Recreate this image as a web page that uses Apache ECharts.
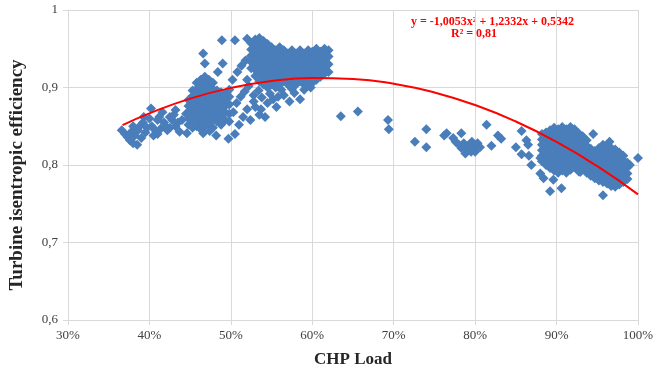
<!DOCTYPE html>
<html><head><meta charset="utf-8">
<script src="https://cdn.jsdelivr.net/npm/echarts@6/dist/echarts.min.js"></script>
<style>html,body{margin:0;padding:0;background:#fff}#c{width:659px;height:376px}</style>
</head><body><div id="c"></div>
<script>
// Axis ticks
const xTicks = [0.3,0.4,0.5,0.6,0.7,0.8,0.9,1.0];
const yTicks = [0.6,0.7,0.8,0.9,1.0];

// Scatter data
const clusterLow = [
 [0.366,0.845],[0.370,0.840],[0.373,0.836],[0.376,0.832],[0.380,0.828],[0.378,0.843],[0.382,0.838],
 [0.385,0.826],[0.386,0.845],[0.388,0.850],[0.390,0.835],[0.392,0.855],[0.395,0.842],[0.397,0.848],
 [0.400,0.860],[0.402,0.873],[0.403,0.850],[0.405,0.838],[0.407,0.845],[0.410,0.858],[0.412,0.862],
 [0.414,0.847],[0.416,0.868],[0.418,0.855],[0.420,0.850],[0.422,0.845],[0.425,0.862],[0.428,0.858],
 [0.430,0.865],[0.432,0.850],[0.435,0.855],[0.437,0.843],[0.440,0.858],[0.445,0.866],[0.432,0.871],
 [0.380,0.850],[0.393,0.862],[0.410,0.840],[0.425,0.848]
];
const colsMid1 = [
 [0.448,0.852,0.860,0.868,0.876,0.884],
 [0.453,0.848,0.857,0.864,0.873,0.880,0.889,0.896],
 [0.458,0.850,0.858,0.867,0.874,0.882,0.891,0.898,0.906],
 [0.463,0.846,0.855,0.862,0.871,0.878,0.886,0.895,0.902,0.910],
 [0.468,0.850,0.858,0.866,0.875,0.882,0.890,0.899,0.906,0.914],
 [0.473,0.854,0.862,0.871,0.878,0.887,0.894,0.902,0.910],
 [0.478,0.848,0.858,0.866,0.874,0.883,0.890,0.898,0.906],
 [0.483,0.856,0.865,0.872,0.880,0.889,0.896],
 [0.488,0.852,0.862,0.870,0.879,0.886,0.894],
 [0.493,0.858,0.868,0.876,0.885,0.892],
 [0.498,0.856,0.866,0.878,0.888,0.897]
];
const scatterMid1 = [
 [0.466,0.944],[0.489,0.961],[0.505,0.961],[0.520,0.963],[0.490,0.931],[0.468,0.931],[0.484,0.920],
 [0.497,0.834],[0.466,0.841],[0.446,0.841],[0.505,0.840],[0.510,0.852],[0.515,0.862],[0.520,0.872],
 [0.503,0.868],[0.507,0.880],[0.512,0.888],[0.517,0.895],[0.522,0.902],[0.502,0.910],[0.508,0.920],
 [0.513,0.928],[0.518,0.935],[0.525,0.940],[0.520,0.910],[0.528,0.890],[0.530,0.875],[0.535,0.865],
 [0.482,0.838],[0.474,0.844],[0.524,0.858],[0.542,0.862],[0.556,0.875]
];
const colsMid2 = [
 [0.525,0.925,0.933,0.941,0.949,0.957],
 [0.530,0.915,0.923,0.931,0.939,0.947,0.955,0.962],
 [0.535,0.908,0.917,0.924,0.933,0.940,0.948,0.956,0.964],
 [0.540,0.904,0.912,0.921,0.928,0.936,0.945,0.952,0.960],
 [0.545,0.900,0.909,0.916,0.924,0.933,0.940,0.948,0.956],
 [0.550,0.904,0.912,0.920,0.929,0.936,0.944,0.952],
 [0.555,0.900,0.908,0.917,0.924,0.932,0.941,0.948],
 [0.560,0.904,0.913,0.920,0.928,0.937,0.944,0.952],
 [0.565,0.908,0.916,0.925,0.932,0.940,0.948],
 [0.570,0.904,0.912,0.920,0.929,0.936,0.944],
 [0.575,0.908,0.917,0.924,0.932,0.941,0.948],
 [0.580,0.904,0.912,0.921,0.928,0.936,0.944],
 [0.585,0.908,0.916,0.924,0.933,0.940,0.948],
 [0.590,0.904,0.913,0.920,0.928,0.937,0.944],
 [0.595,0.908,0.916,0.925,0.932,0.940,0.948],
 [0.600,0.906,0.914,0.922,0.931,0.938,0.946],
 [0.605,0.910,0.918,0.926,0.935,0.942,0.950],
 [0.610,0.914,0.922,0.931,0.938,0.946],
 [0.615,0.918,0.926,0.934,0.942,0.950],
 [0.620,0.920,0.930,0.940,0.948]
];
const scatterMid2 = [
 [0.538,0.887],[0.545,0.880],[0.552,0.885],[0.558,0.888],[0.565,0.890],[0.572,0.882],[0.578,0.893],
 [0.585,0.885],[0.534,0.896],[0.548,0.892],[0.562,0.897],[0.575,0.898],[0.590,0.897],[0.598,0.900],
 [0.537,0.872],[0.528,0.882]
];
const scatterSparse = [
 [0.635,0.863],[0.656,0.869],[0.693,0.858],[0.694,0.846],[0.726,0.830],[0.740,0.846],[0.740,0.823],
 [0.765,0.841],[0.762,0.838],[0.783,0.841],[0.773,0.835],[0.776,0.830],[0.780,0.826],[0.783,0.822],
 [0.786,0.828],[0.790,0.820],[0.793,0.826],[0.796,0.830],[0.800,0.822],[0.803,0.828],[0.788,0.815],
 [0.795,0.817],[0.800,0.817],[0.806,0.823],[0.814,0.852],[0.820,0.825],[0.828,0.838],[0.832,0.834],
 [0.850,0.823],[0.857,0.844],[0.863,0.832],[0.865,0.826],[0.857,0.814],[0.866,0.812],[0.869,0.800],
 [0.880,0.809],[0.880,0.789],[0.884,0.783],[0.896,0.781],[0.892,0.766],[0.906,0.770],[0.929,0.791],
 [0.957,0.761],[1.000,0.809],[0.990,0.800],[0.965,0.830],[0.945,0.840]
];
const colsHigh1 = [
 [0.882,0.805,0.812,0.819,0.826,0.833,0.840],
 [0.887,0.800,0.808,0.814,0.822,0.828,0.836,0.842],
 [0.892,0.796,0.803,0.811,0.817,0.825,0.831,0.839,0.845],
 [0.897,0.793,0.801,0.807,0.815,0.821,0.829,0.835,0.842,0.848],
 [0.902,0.790,0.797,0.805,0.811,0.819,0.825,0.833,0.839,0.846],
 [0.907,0.793,0.801,0.807,0.815,0.821,0.829,0.835,0.843,0.849],
 [0.912,0.790,0.797,0.805,0.811,0.819,0.825,0.833,0.839,0.846],
 [0.917,0.794,0.801,0.809,0.815,0.823,0.829,0.837,0.843,0.849],
 [0.922,0.797,0.805,0.811,0.819,0.825,0.833,0.839,0.846],
 [0.927,0.792,0.799,0.807,0.813,0.821,0.827,0.835,0.841],
 [0.932,0.795,0.803,0.809,0.817,0.823,0.831,0.837],
 [0.937,0.790,0.797,0.805,0.811,0.819,0.825,0.832],
 [0.942,0.786,0.794,0.800,0.808,0.814,0.821]
];
const colsHigh2 = [
 [0.947,0.783,0.790,0.798,0.804,0.812,0.818],
 [0.952,0.780,0.788,0.794,0.802,0.808,0.816,0.822],
 [0.957,0.778,0.785,0.793,0.799,0.807,0.813,0.820,0.826],
 [0.962,0.776,0.784,0.790,0.798,0.804,0.812,0.818,0.825],
 [0.967,0.773,0.780,0.788,0.794,0.802,0.808,0.816,0.822],
 [0.972,0.772,0.779,0.787,0.793,0.801,0.807,0.814,0.820],
 [0.977,0.775,0.783,0.789,0.797,0.803,0.810,0.816],
 [0.982,0.778,0.786,0.792,0.800,0.806,0.812],
 [0.987,0.782,0.789,0.797,0.803]
];

// Trend line points
const trendX = [0.367,0.40,0.45,0.50,0.55,0.60,0.65,0.70,0.75,0.80,0.85,0.90,0.95,1.00];
const trendY = [0.8514,0.8666,0.8856,0.8995,0.9084,0.9122,0.9110,0.9048,0.8936,0.8774,0.8561,0.8298,0.7985,0.7621];

const trendLabel1 = 'y = -1,0053x² + 1,2332x + 0,5342';
const trendLabel2 = 'R² = 0,81';
const xTitle = 'CHP Load';
const yTitle = 'Turbine isentropic efficiency';

function expand(cols){ const out=[]; cols.forEach(c=>{ for(let i=1;i<c.length;i++) out.push([c[0],c[i]]); }); return out; }
const points = [].concat(clusterLow, expand(colsMid1), scatterMid1, expand(colsMid2), scatterMid2,
  scatterSparse, expand(colsHigh1), expand(colsHigh2));
const trend = trendX.map((x,i)=>[x,trendY[i]]);

const serif = 'Liberation Serif';
const chart = echarts.init(document.getElementById('c'), null, {renderer:'canvas'});
chart.setOption({
  animation:false,
  backgroundColor:'#fff',
  grid:{left:68,right:21,top:10,bottom:56},
  xAxis:{type:'value',min:0.3,max:1.0,interval:0.1,
    name:xTitle,nameLocation:'middle',nameGap:31,
    nameTextStyle:{fontFamily:serif,fontWeight:'bold',fontSize:17,color:'#262626'},
    axisLine:{show:true,lineStyle:{color:'#d9d9d9'}},
    axisTick:{show:true,length:5,lineStyle:{color:'#d9d9d9'}},
    axisLabel:{fontFamily:serif,fontSize:13,color:'#404040',margin:9,formatter:v=>Math.round(v*100)+'%'},
    splitLine:{show:true,lineStyle:{color:'#d9d9d9',width:1}}},
  yAxis:{type:'value',min:0.6,max:1.0,interval:0.1,
    axisLine:{show:true,lineStyle:{color:'#d9d9d9'}},
    axisTick:{show:true,length:5,lineStyle:{color:'#d9d9d9'}},
    axisLabel:{fontFamily:serif,fontSize:13,color:'#404040',margin:10,
      formatter:v=>{const r=Math.round(v*10)/10; return r===1?'1':r.toFixed(1).replace('.',',');}},
    splitLine:{show:true,lineStyle:{color:'#d9d9d9',width:1}}},
  graphic:[
    {type:'text',x:17,y:175,rotation:Math.PI/2,
      style:{text:yTitle,fontFamily:serif,fontWeight:'bold',fontSize:19,fill:'#262626',align:'center',verticalAlign:'middle'}},
    {type:'text',left:411,top:16,style:{text:trendLabel1,fontFamily:serif,fontWeight:'bold',fontSize:12,fill:'#ff0000'}},
    {type:'text',left:451,top:28,style:{text:trendLabel2,fontFamily:serif,fontWeight:'bold',fontSize:12,fill:'#ff0000'}}
  ],
  series:[
    {type:'scatter',data:points,symbol:'diamond',symbolSize:10,
      itemStyle:{color:'#4a7ebb',opacity:1}},
    {type:'line',data:trend,smooth:true,showSymbol:false,symbol:'none',
      lineStyle:{color:'#ff0000',width:2},z:5}
  ]
});
</script></body></html>
